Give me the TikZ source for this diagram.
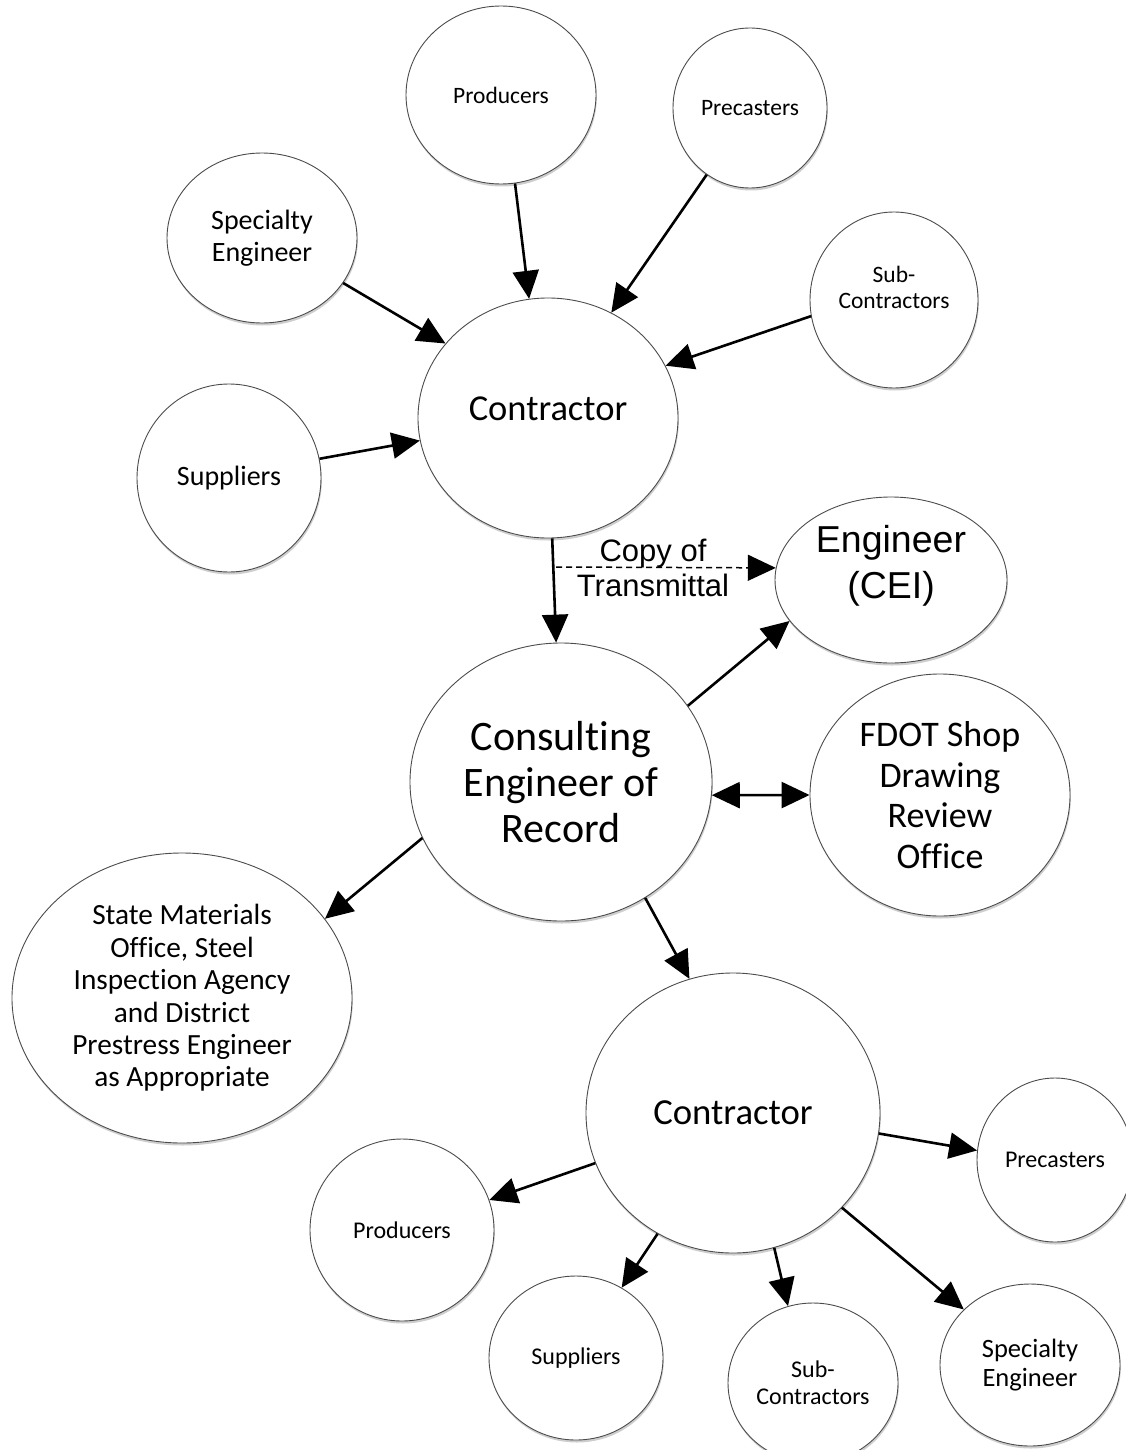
\documentclass[tikz,border=0pt]{standalone}
\usepackage{fontspec}
\setmainfont{Carlito}[Ligatures={NoCommon,NoContextual}]
\newfontfamily\arialf{Liberation Sans}
\usetikzlibrary{shapes.geometric,arrows.meta,shadows}
\newcommand{\fsz}[2]{\fontsize{#1}{#2}\selectfont}
\begin{document}
\begin{tikzpicture}[x=1pt,y=-1pt,
  bub/.style={ellipse, draw=black!70, line width=0.9pt, fill=white, inner sep=0pt, align=center,
    drop shadow={shadow xshift=0.8pt, shadow yshift=-2.5pt, opacity=0.35, fill=black!55}},
  txt/.style={align=center, inner sep=0pt},
  arr/.style={line width=2.6pt, -{Triangle[length=28pt,width=26pt]}},
  arrb/.style={line width=2.6pt, {Triangle[length=28pt,width=26pt]}-{Triangle[length=28pt,width=26pt]}},
  darr/.style={line width=1.5pt, dash pattern=on 6pt off 4pt, -{Triangle[length=28pt,width=26pt]}}]
\useasboundingbox (0,0) rectangle (1126,1450);
\clip (0,0) rectangle (1126,1450);
\fill[white] (0,0) rectangle (1126,1450);

% top group
\node[bub, minimum width=190pt, minimum height=178pt, font=\fsz{23.5}{26}] (prodT) at (501,95) {Producers};
\node[bub, minimum width=154pt, minimum height=160pt, font=\fsz{23.5}{26}] (precT) at (750,108) {Precasters};
\node[bub, minimum width=190pt, minimum height=170pt, font=\fsz{28}{32}] (specT) at (262,238) {Specialty\\Engineer};
\node[bub, minimum width=168pt, minimum height=176pt] (subT) at (894,300) {};
\node[txt, font=\fsz{23.5}{26}] (subTtxt) at (894,287) {Sub-\\Contractors};
\node[bub, minimum width=184pt, minimum height=188pt, font=\fsz{28}{32}] (suppT) at (229,478) {Suppliers};
\node[bub, minimum width=260pt, minimum height=240pt] (contT) at (548,418) {};
\node[txt, font=\fsz{36.5}{40}] (contTtxt) at (548,409) {Contractor};

% middle
\node[bub, minimum width=232pt, minimum height=166pt] (eng) at (891,580) {};
\node[txt, font=\arialf\fsz{37.5}{46}] (engtxt) at (891,566) {Engineer\\(CEI)};
\node[bub, minimum width=302pt, minimum height=278pt, font=\fsz{42}{46}] (cer) at (561,782) {Consulting\\Engineer of\\Record};
\node[bub, minimum width=260pt, minimum height=242pt, font=\fsz{36}{40.5}] (fdot) at (940,795) {FDOT Shop\\Drawing\\Review\\Office};
\node[bub, minimum width=340pt, minimum height=290pt, font=\fsz{29.3}{32.4}] (state) at (182,998)
  {State Materials\\Office, Steel\\Inspection Agency\\and District\\Prestress Engineer\\as Appropriate};
\node[txt, font=\arialf\fsz{31}{35}] (copylbl) at (653,568) {Copy of\\Transmittal};

% bottom group
\node[bub, minimum width=294pt, minimum height=280pt, font=\fsz{36.7}{40}] (contB) at (733,1113) {Contractor};
\node[bub, minimum width=156pt, minimum height=164pt, font=\fsz{24}{26}] (precB) at (1055,1160) {Precasters};
\node[bub, minimum width=184pt, minimum height=182pt, font=\fsz{24}{26}] (prodB) at (402,1230) {Producers};
\node[bub, minimum width=174pt, minimum height=164pt, font=\fsz{24}{26}] (suppB) at (576,1358) {Suppliers};
\node[bub, minimum width=170pt, minimum height=160pt, font=\fsz{24}{27}] (subB) at (813,1383) {Sub-\\Contractors};
\node[bub, minimum width=180pt, minimum height=162pt, font=\fsz{26.5}{28.5}] (specB) at (1030,1365) {Specialty\\Engineer};

% connectors
\draw[arr] (prodT.-81) -- (contT.99);
\draw[arr] (precT.-123) -- (contT.59);
\draw[arr] (specT.-29) -- (contT.144);
\draw[arr] (subT.-169) -- (contT.24);
\draw[arr] (suppT.12) -- (contT.-170);
\draw[arr] (contT.-88) -- (cer.92);
\coordinate (dashstart) at (556,567);
\draw[darr] (dashstart) -- (eng.174);
\draw[arr] (cer.31) -- (eng.-158);
\draw[arrb] (cer.-5) -- (fdot.180);
\draw[arr] (cer.-158) -- (state.29);
\draw[arr] (cer.-54) -- (contB.108);
\draw[arr] (contB.-8) -- (precB.173);
\draw[arr] (contB.-160) -- (prodB.19);
\draw[arr] (contB.-122) -- (suppB.57);
\draw[arr] (contB.-73) -- (subB.108);
\draw[arr] (contB.-41) -- (specB.140);
\end{tikzpicture}
\end{document}
